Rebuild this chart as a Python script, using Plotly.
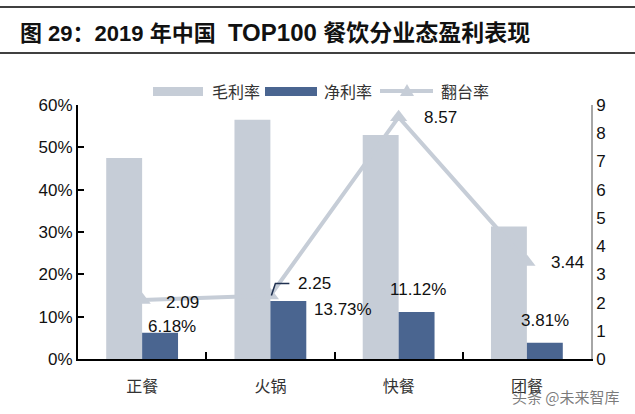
import plotly.graph_objects as go

# ---------------- data ----------------
categories = ["正餐", "火锅", "快餐", "团餐"]
gross_margin = [0.475, 0.565, 0.529, 0.313]
net_margin = [0.0618, 0.1373, 0.1112, 0.0381]
turnover = [2.09, 2.25, 8.57, 3.44]
net_labels = ["6.18%", "13.73%", "11.12%", "3.81%"]
turn_labels = ["2.09", "2.25", "8.57", "3.44"]
series_names = ["毛利率", "净利率", "翻台率"]
title_parts = ["图 29：2019 年中国", "TOP100", "餐饮分业态盈利表现"]
watermark = "头条 @未来智库"

# ---------------- style ----------------
W, H = 635, 414
ML, MR, MT, MB = 78, 44, 105, 55
PW, PH = W - ML - MR, H - MT - MB
C_GROSS = "#c6cdd7"
C_NET = "#4a6590"
C_LINE = "#c6cdd7"
LATIN = "Liberation Sans, Arial, sans-serif"
CJK = "Noto Sans CJK SC, sans-serif"
BOTH = "Liberation Sans, Noto Sans CJK SC, sans-serif"


def px(x):
    return (x - ML) / PW


def py(y):
    return (H - MB - y) / PH


fig = go.Figure()
fig.add_trace(go.Bar(x=categories, y=gross_margin, name=series_names[0],
                     marker=dict(color=C_GROSS, line=dict(width=0))))
fig.add_trace(go.Bar(x=categories, y=net_margin, name=series_names[1],
                     marker=dict(color=C_NET, line=dict(width=0))))
fig.add_trace(go.Scatter(x=categories, y=turnover, name=series_names[2], yaxis="y2",
                         mode="lines+markers",
                         line=dict(color=C_LINE, width=4),
                         marker=dict(symbol="triangle-up", size=15, color=C_LINE)))

annotations = []
net_offsets = [(30, 6), (73, -9), (19, 22), (18, 22)]
for c, v, t, (dx, dy) in zip(categories, net_margin, net_labels, net_offsets):
    annotations.append(dict(x=c, y=v, xref="x", yref="y", text=t, showarrow=False,
                            xshift=dx, yshift=dy, xanchor="center", yanchor="middle",
                            font=dict(family=LATIN, size=17, color="#111")))
turn_offsets = [(40, -2), (44, 12), (42, 0), (41, -1)]
for c, v, t, (dx, dy) in zip(categories, turnover, turn_labels, turn_offsets):
    annotations.append(dict(x=c, y=v, xref="x", yref="y2", text=t, showarrow=False,
                            xshift=dx, yshift=dy, xanchor="center", yanchor="middle",
                            font=dict(family=LATIN, size=17, color="#111")))

title_html = ("<b>" + title_parts[0] + "\u00a0\u00a0<span style='font-size:24px'>" + title_parts[1]
              + "</span><span style='font-size:23px'> " + title_parts[2] + "</span></b>")
annotations.append(dict(x=px(18), y=py(32), xref="paper", yref="paper", text=title_html,
                        showarrow=False, xanchor="left", yanchor="middle",
                        font=dict(family=BOTH, size=22, color="#111")))
for name, xl in zip(series_names, [210, 322, 439]):
    annotations.append(dict(x=px(xl), y=py(91), xref="paper", yref="paper", text=name,
                            showarrow=False, xanchor="left", yanchor="middle",
                            font=dict(family=CJK, size=16, color="#333")))
annotations.append(dict(x=px(622), y=py(396), xref="paper", yref="paper", text=watermark,
                        showarrow=False, xanchor="right", yanchor="middle",
                        font=dict(family=CJK, size=15, color="rgba(80,80,80,0.75)")))

shapes = [
    dict(type="line", xref="paper", yref="paper", x0=px(0), x1=px(W), y0=py(7), y1=py(7),
         line=dict(color="#000", width=1.5)),
    dict(type="line", xref="paper", yref="paper", x0=px(0), x1=px(W), y0=py(53), y1=py(53),
         line=dict(color="#000", width=1.5)),
    dict(type="rect", xref="paper", yref="paper", x0=px(153), x1=px(203), y0=py(87), y1=py(96),
         fillcolor=C_GROSS, line=dict(width=0)),
    dict(type="rect", xref="paper", yref="paper", x0=px(265), x1=px(317), y0=py(87), y1=py(96),
         fillcolor=C_NET, line=dict(width=0)),
    dict(type="line", xref="paper", yref="paper", x0=px(380), x1=px(433), y0=py(91), y1=py(91),
         line=dict(color=C_LINE, width=4)),
    dict(type="path", xref="paper", yref="paper", xsizemode="pixel", ysizemode="pixel",
         xanchor=px(407), yanchor=py(91), path="M-7,-5 L7,-5 L0,7 Z",
         fillcolor=C_LINE, line=dict(color=C_LINE, width=0)),
    dict(type="path", xref="x", yref="y2", xsizemode="pixel", ysizemode="pixel",
         xanchor=categories[1], yanchor=turnover[1],
         path="M1,0 L5,12 L19,12", line=dict(color="#1f3050", width=1.5)),
]

fig.update_layout(
    width=W, height=H,
    margin=dict(l=ML, r=MR, t=MT, b=MB),
    paper_bgcolor="white", plot_bgcolor="white",
    barmode="group", bargap=0.44, bargroupgap=0,
    showlegend=False,
    annotations=annotations, shapes=shapes,
    xaxis=dict(type="category", showline=True, linecolor="#000", linewidth=2,
               ticks="inside", tickson="boundaries", ticklen=7, tickcolor="#000", tickwidth=1.5,
               tickfont=dict(family=CJK, size=16, color="#333"), ticklabelstandoff=12,
               showgrid=False, zeroline=False),
    yaxis=dict(range=[0, 0.6], dtick=0.1, tickformat=".0%", showline=True, linecolor="#000",
               linewidth=2, ticks="inside", ticklen=6, tickcolor="#000", tickwidth=1.5,
               tickfont=dict(family=LATIN, size=17, color="#111"), showgrid=False, zeroline=False),
    yaxis2=dict(range=[0, 9], dtick=1, overlaying="y", side="right", showline=True,
                linecolor="#a6a6a6", linewidth=1.5, ticks="", showgrid=False, zeroline=False,
                tickfont=dict(family=LATIN, size=17, color="#111")),
)

fig.write_html("out.html", config={"displayModeBar": False},
               post_script="document.body.style.margin='0';")
